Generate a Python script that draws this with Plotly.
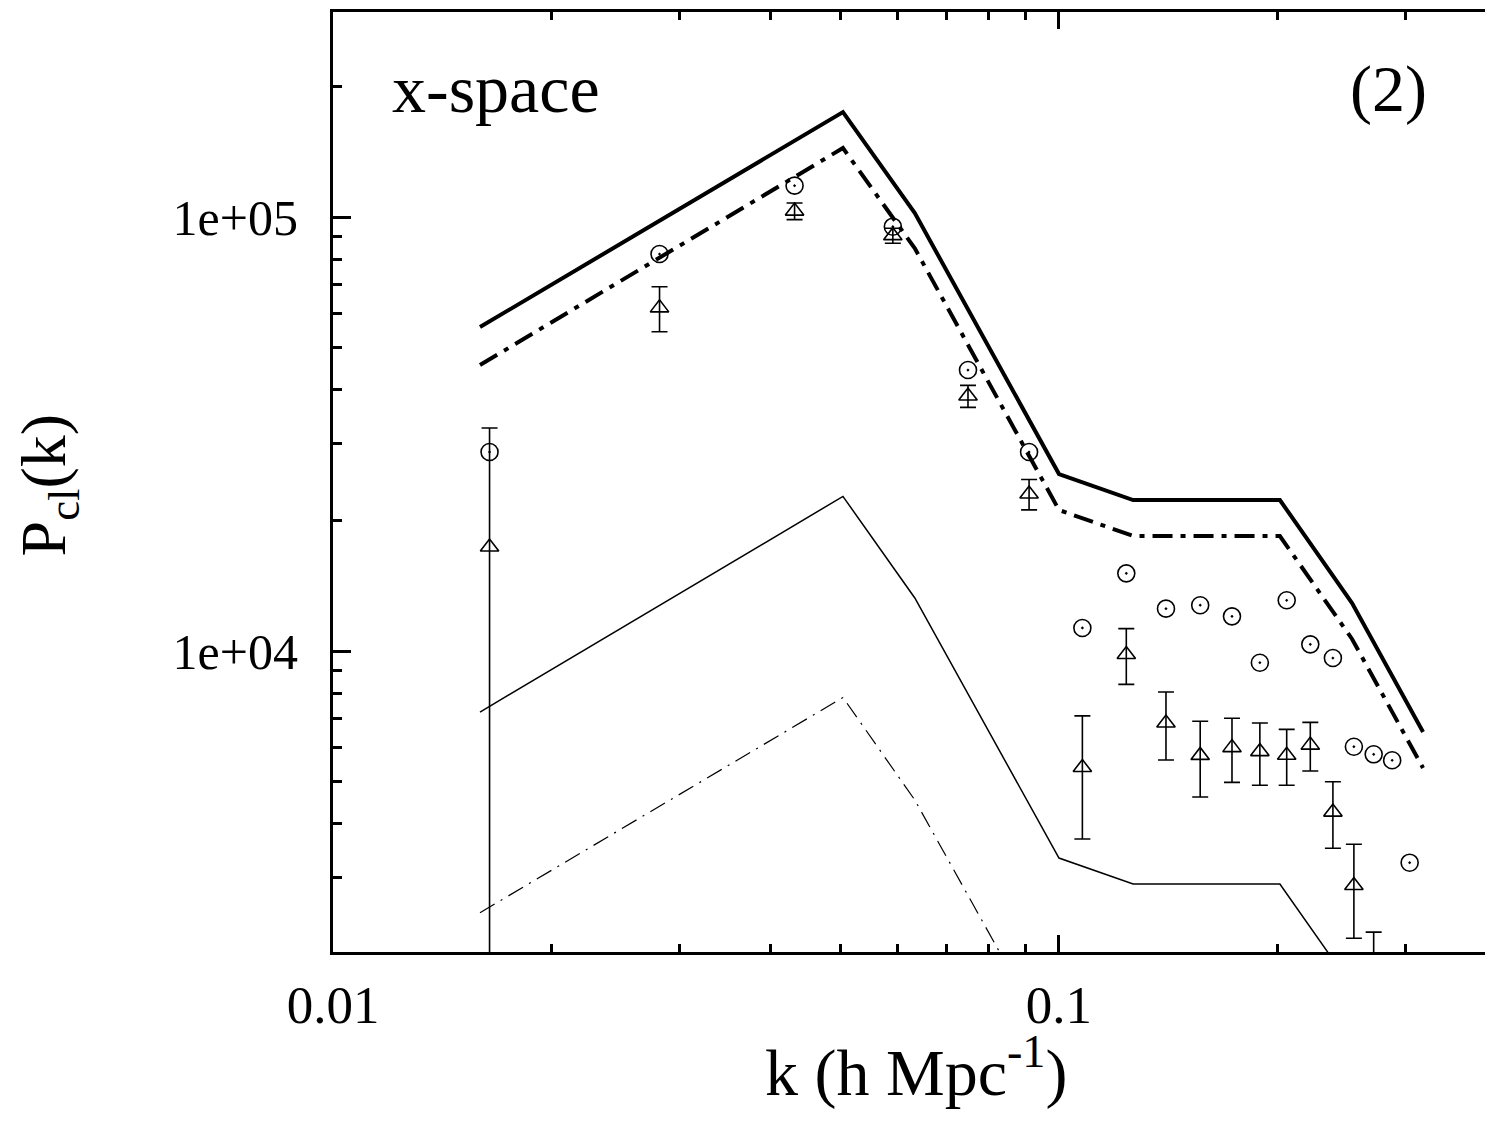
import plotly.graph_objects as go

# ---- data ----
k_model = [0.01594, 0.0504, 0.0633, 0.1, 0.1265, 0.2015, 0.2533, 0.3173]
P_thick_solid = [55780, 174500, 102100, 25570, 22280, 22280, 12900, 6508]
P_thick_dashdot = [45600, 144200, 84700, 21130, 18410, 18410, 10660, 5375]
P_thin_solid = [7235, 22710, 13250, 3334, 2905, 2905, 1685, 850]
P_thin_dashdot = [2495, 7815, 4536, 1150, 1002, 1002, 581, 293]

k_bins = [0.01643, 0.02817, 0.04323, 0.05904, 0.07493, 0.09095, 0.1077, 0.1238,
          0.1404, 0.1565, 0.1731, 0.1891, 0.2059, 0.2219, 0.2384, 0.2548,
          0.2713, 0.2877, 0.3041]
P_circles = [28740, 82170, 118100, 95000, 44410, 28740, 11300, 15100, 12520,
             12750, 12020, 9397, 13090, 10360, 9636, 6018, 5781, 5601, 3253]

P_triangles = [17370, 61750, 103200, 90580, 38680, 23000, 5390, 9820, 6827,
               5748, 5990, 5865, 5752, 6070, 4255, 2882, 1650]
err_plus = [15270, 7340, 4550, 3600, 2250, 1850, 1700, 1440, 1218, 1139,
            1008, 960, 848, 780, 744, 704, 600]
err_minus = [15870, 7340, 4550, 3600, 2250, 1850, 1700, 1440, 1218, 1139,
             1008, 960, 848, 780, 744, 704, 600]

x_tickvals = [0.01, 0.1]
x_ticktext = ["0.01", "0.1"]
y_tickvals = [1e4, 1e5]
y_ticktext = ["1e+04", "1e+05"]

FONT = "Liberation Serif, Times New Roman, serif"

fig = go.Figure()

fig.add_trace(go.Scatter(x=k_model, y=P_thick_solid, mode="lines",
                         line=dict(color="black", width=4), showlegend=False))
fig.add_trace(go.Scatter(x=k_model, y=P_thick_dashdot, mode="lines",
                         line=dict(color="black", width=4, dash="20px,8px,5px,8px"),
                         showlegend=False))
fig.add_trace(go.Scatter(x=k_model, y=P_thin_solid, mode="lines",
                         line=dict(color="black", width=1.5), showlegend=False))
fig.add_trace(go.Scatter(x=k_model, y=P_thin_dashdot, mode="lines",
                         line=dict(color="black", width=1.2, dash="17px,7px,2px,7px"),
                         showlegend=False))

fig.add_trace(go.Scatter(x=k_bins, y=P_circles, mode="markers",
                         marker=dict(symbol="circle-open-dot", size=17, color="black",
                                     line=dict(width=1.6, color="black")),
                         showlegend=False))
fig.add_trace(go.Scatter(x=k_bins[:len(P_triangles)], y=P_triangles, mode="markers",
                         marker=dict(symbol="triangle-up-open", size=16, color="black",
                                     line=dict(width=1.6, color="black")),
                         error_y=dict(type="data", symmetric=False, array=err_plus,
                                      arrayminus=err_minus, color="black",
                                      thickness=1.6, width=8),
                         showlegend=False))

fig.add_annotation(text="x-space", xref="paper", yref="paper", x=0.0495, y=0.918,
                   xanchor="left", yanchor="middle", showarrow=False,
                   font=dict(family=FONT, size=68, color="black"))
fig.add_annotation(text="(2)", xref="paper", yref="paper", x=0.9515, y=0.918,
                   xanchor="right", yanchor="middle", showarrow=False,
                   font=dict(family=FONT, size=66, color="black"))

# axis titles
fig.add_annotation(text="k (h Mpc<sup>-1</sup>)", xref="paper", yref="paper",
                   x=0.506, y=-0.123, xanchor="center", yanchor="middle",
                   showarrow=False, font=dict(family=FONT, size=66, color="black"))
fig.add_annotation(text="P<sub>cl</sub>(k)", xref="paper", yref="paper",
                   x=-0.247, y=0.4968, xanchor="center", yanchor="middle",
                   textangle=-90, showarrow=False,
                   font=dict(family=FONT, size=64, color="black"))

minor_x = [0.02, 0.03, 0.04, 0.05, 0.06, 0.07, 0.08, 0.09, 0.2, 0.3]
minor_y = [3000, 4000, 5000, 6000, 7000, 8000, 9000,
           20000, 30000, 40000, 50000, 60000, 70000, 80000, 90000, 200000]

fig.update_layout(
    width=1485, height=1131,
    margin=dict(l=333, r=0, t=12, b=179),
    paper_bgcolor="white", plot_bgcolor="white",
    font=dict(family=FONT, color="black"),
    xaxis=dict(type="log", range=[-2, -0.4132], automargin=False,
               tickmode="array", tickvals=x_tickvals, ticktext=x_ticktext,
               ticks="inside", ticklen=17, tickwidth=2.5, tickcolor="black",
               minor=dict(tickmode="array", tickvals=minor_x, ticks="inside",
                          ticklen=8, tickwidth=2.5, tickcolor="black", showgrid=False),
               showline=True, linewidth=3, linecolor="black", mirror="ticks",
               showgrid=False, zeroline=False,
               tickfont=dict(family=FONT, size=53, color="black"),
               ticklabelstandoff=4),
    yaxis=dict(type="log", range=[3.3065, 5.4724], automargin=False,
               tickmode="array", tickvals=y_tickvals, ticktext=y_ticktext,
               ticks="inside", ticklen=18, tickwidth=2.5, tickcolor="black",
               minor=dict(tickmode="array", tickvals=minor_y, ticks="inside",
                          ticklen=9, tickwidth=2.5, tickcolor="black", showgrid=False),
               showline=True, linewidth=3, linecolor="black", mirror=False,
               showgrid=False, zeroline=False,
               tickfont=dict(family=FONT, size=50, color="black"),
               ticklabelstandoff=22),
    yaxis2=dict(type="log", range=[3.3065, 5.4724], overlaying="y", side="right",
                automargin=False,
                tickmode="array", tickvals=y_tickvals, ticktext=["", ""],
                showticklabels=False,
                ticks="inside", ticklen=4, tickwidth=2.5, tickcolor="black",
                showline=False, linewidth=0, showgrid=False, zeroline=False),
)

# remove the default page margin and scrollbars so the figure fills the window
page_css = ("document.body.style.margin='0';"
            "document.documentElement.style.overflow='hidden';"
            "document.body.style.overflow='hidden';")
fig.write_html("out.html", post_script=page_css,
               config={"displayModeBar": False})
